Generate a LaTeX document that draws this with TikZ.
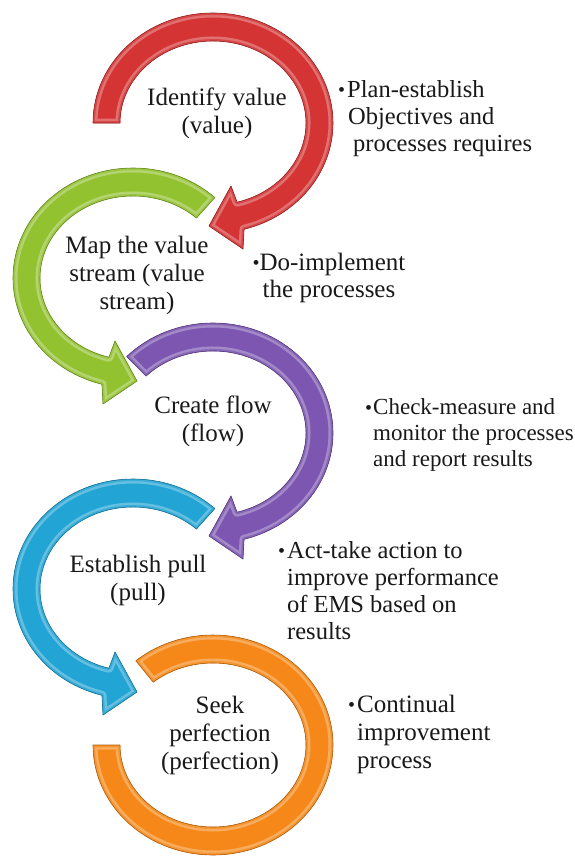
\documentclass[tikz,border=0pt]{standalone}
\usepackage{fontspec}
\setmainfont{Liberation Serif}
\definecolor{cRed}{RGB}{212,52,52}
\definecolor{cGreen}{RGB}{146,194,48}
\definecolor{cPurple}{RGB}{124,86,176}
\definecolor{cBlue}{RGB}{34,164,212}
\definecolor{cOrange}{RGB}{245,136,24}
\definecolor{txt}{RGB}{25,25,25}
% clockwise ring arrow, local coordinates, start angle #1
\newcommand{\cwpath}[1]{({120*cos(#1)},{110*sin(#1)}) arc[start angle=#1, end angle=-75, x radius=120, y radius=110] -- (30,-126) -- (-4,-103) -- (18,-63) -- ({93*cos(-75)},{82*sin(-75)}) arc[start angle=-75, end angle=#1, x radius=93, y radius=82] -- cycle}
\newcommand{\orpath}{({120*cos(130)},{110*sin(130)}) arc[start angle=130, end angle=-180, x radius=120, y radius=110] -- (-93,0) arc[start angle=-180, end angle=130, x radius=93, y radius=82] -- cycle}
\newcommand{\bevel}[2]{%
  \fill[#2] #1;
  \begin{scope}
    \clip #1;
    \draw[#2!70!white, line width=9pt, line join=round] #1;
    \draw[#2!90!white, line width=4pt, line join=round] #1;
  \end{scope}
  \draw[#2!70!black, line width=0.6pt, line join=round] #1;}
\newcommand{\bul}[1]{\makebox[#1][l]{\raisebox{0.5pt}{\fontsize{20}{20}\selectfont •}}}
\begin{document}
\begin{tikzpicture}[x=1pt,y=1pt,
  lbl/.style={font=\fontsize{25}{28}\selectfont, align=center, text=txt, inner sep=0pt, anchor=north},
  note/.style={font=\fontsize{24.5}{27}\selectfont, align=left, text=txt, inner sep=0pt, anchor=north west}]
\useasboundingbox[fill=white] (0,0) rectangle (575,-857);
% arrows (later stages first so arrowheads lie on top)
\begin{scope}[shift={(213,-745)}]
  \bevel{\orpath}{cOrange}
\end{scope}
\begin{scope}[shift={(133,-589)},xscale=-1]
  \bevel{\cwpath{133}}{cBlue}
\end{scope}
\begin{scope}[shift={(213,-433)}]
  \bevel{\cwpath{136}}{cPurple}
\end{scope}
\begin{scope}[shift={(133,-278)},xscale=-1]
  \bevel{\cwpath{133}}{cGreen}
\end{scope}
\begin{scope}[shift={(213,-123)}]
  \bevel{\cwpath{180}}{cRed}
\end{scope}
% centre labels
\node[lbl] (value) at (217,-85.4) {\strut Identify value\\(value)};
\node[lbl] (stream) at (137,-233.4) {\strut Map the value\\stream (value\\stream)};
\node[lbl] (flow) at (213,-393.4) {\strut Create flow\\(flow)};
\node[lbl] (pull) at (138,-552.4) {\strut Establish pull\\(pull)};
\node[lbl] (perf) at (220,-693.4) {\strut Seek\\perfection\\(perfection)};
% notes
\node[note] (plan) at (338,-78.1) {\strut\bul{9pt}Plan-establish\\\hspace*{10pt}Objectives and\\\hspace*{15pt}processes requires};
\node[note, align=center, anchor=north, font=\fontsize{25}{27}\selectfont] (do) at (329,-251.1) {\strut\bul{7pt}Do-implement\\the processes};
\node[note, font=\fontsize{23}{26}\selectfont] (check) at (365,-396.1) {\strut\bul{8pt}Check-measure and\\\hspace*{8pt}monitor the processes\\\hspace*{8pt}and report results};
\node[note] (act) at (278,-539.1) {\strut\bul{9pt}Act-take action to\\\hspace*{9pt}improve performance\\\hspace*{9pt}of EMS based on\\\hspace*{9pt}results};
\node[note, font=\fontsize{25}{28}\selectfont] (cont) at (348,-692.4) {\strut\bul{9pt}Continual\\\hspace*{9pt}improvement\\\hspace*{9pt}process};
\end{tikzpicture}
\end{document}
